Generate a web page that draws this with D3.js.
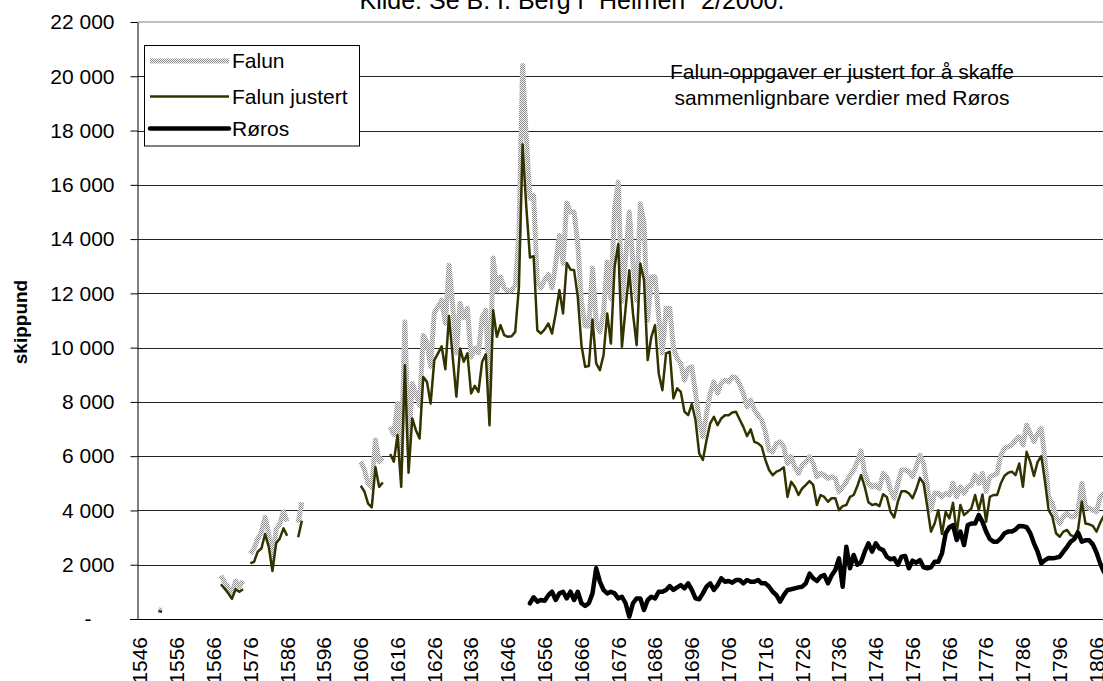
<!DOCTYPE html>
<html>
<head>
<meta charset="utf-8">
<script src="https://cdn.jsdelivr.net/npm/d3@7/dist/d3.min.js"></script>
<style>
  body { margin: 0; background: #fff; }
  svg { display: block; font-family: "Liberation Sans", Arial, sans-serif; }
</style>
</head>
<body>
<svg id="chart" width="1103" height="681"></svg>
<script>
// values (skippund per year), runs = [firstYear, values]
const falunRuns = [
    [1551, [330, 320]],
    [1568, [1600, 1350, 1150, 950, 1400, 1200, 1400]],
    [1576, [2400, 2600, 2950, 3200, 3750, 3150, 2200, 3300, 3500, 3950, 3600]],
    [1589, [3550, 4300]],
    [1606, [5800, 5500, 5000, 4850, 6600, 5800, 5950]],
    [1614, [
        7080, 6800, 7940, 5800, 10950, 6300, 8680, 8310, 7880, 10460,
        10200, 9300, 11300, 11500, 11750, 10900, 13040, 11560, 9800, 11640,
        11100, 11450, 9650, 9980, 9800, 11100, 11380, 8300, 13300, 12100,
        12600, 12190, 12100, 12100, 12300, 14200, 20400, 17700, 15500, 15600,
        12400, 12200, 12500, 12700, 12200, 13100, 14140, 13100, 15330, 15000,
        15000, 13800, 11700, 10800, 10800, 12930, 10950, 10580, 11300, 13160,
        11800, 15100, 16100, 11700, 13300, 15000, 13100, 11750, 15300, 14580,
        11010, 12610, 12610, 11130, 9800, 11450, 11450, 9980, 9610, 9420,
        8800, 9240, 9290, 8320, 7330, 6710, 7590, 8320, 8740, 8320,
        8690, 8800, 8740, 8920, 8900, 8650, 8320, 7820, 8070, 7700,
        7510, 7330, 6900, 6220, 6160, 6470, 6530, 6350, 5730, 5980,
        5610, 5370, 5670, 5790, 5980, 5730, 5240, 5370, 5300, 5180,
        5240, 5180, 4690, 4870, 5060, 5300, 5490, 5800, 6200, 5370,
        5000, 4870, 4940, 4810, 5370, 5240, 4750, 4450, 5000, 5490,
        5490, 5430, 5240, 5610, 6040, 5730, 4870, 4010, 4630, 4630,
        4500, 4630, 4570, 5000, 4500, 4870, 4630, 4870, 4940, 5300,
        5000, 5370, 4700, 5240, 5300, 5370, 6040, 6290, 6350, 6410,
        6590, 6710, 6410, 7140, 6840, 6530, 6840, 7020, 5860, 4500,
        4260, 3770, 3520, 3770, 3890, 3770, 3770, 4000, 5000, 4140,
        4080, 4010, 3950, 4500, 4650
    ]]
];

const falunJustertRuns = [
    [1551, [290, 270]],
    [1568, [1280, 1120, 950, 740, 1100, 1000, 1100]],
    [1576, [2050, 2110, 2480, 2600, 3130, 2660, 1770, 2790, 2970, 3340, 3070]],
    [1589, [3010, 3620]],
    [1606, [4910, 4700, 4250, 4110, 5590, 4870, 5030]],
    [1614, [
        6080, 5800, 6780, 4870, 9350, 5390, 7390, 6960, 6650, 8920,
        8740, 7940, 9540, 9790, 10050, 9200, 11170, 9660, 8190, 9970,
        9480, 9790, 8310, 8590, 8370, 9480, 9750, 7140, 11380, 10400,
        10830, 10460, 10400, 10420, 10580, 12240, 17490, 15200, 13320, 13370,
        10640, 10520, 10670, 10890, 10520, 11260, 12120, 11260, 13120, 12880,
        12850, 11870, 10090, 9290, 9320, 11040, 9420, 9170, 9720, 11260,
        10150, 12970, 13810, 10030, 11450, 12850, 11260, 10090, 13100, 12490,
        9540, 10400, 10830, 9050, 8430, 9790, 9850, 8130, 8500, 8370,
        7640, 7510, 7920, 7330, 6100, 5860, 6590, 7210, 7450, 7140,
        7390, 7510, 7510, 7610, 7640, 7350, 7080, 6740, 6990, 6530,
        6470, 6350, 5860, 5490, 5300, 5430, 5490, 5590, 4500, 5060,
        4870, 4570, 4810, 4940, 5080, 4940, 4200, 4570, 4500, 4320,
        4450, 4450, 4010, 4160, 4200, 4500, 4570, 4900, 5300, 4870,
        4300, 4200, 4240, 4160, 4600, 4500, 3950, 3740, 4320, 4710,
        4710, 4630, 4450, 4780, 5200, 5000, 4140, 3220, 3520, 4010,
        3130, 3950, 3710, 4280, 3160, 4200, 3830, 3950, 4080, 4570,
        4010, 4590, 3580, 4500, 4570, 4570, 5000, 5280, 5390, 5430,
        5300, 5730, 4870, 6160, 5790, 5270, 5790, 6000, 5060, 4010,
        3770, 3160, 3030, 3220, 3280, 3090, 3030, 3300, 4320, 3520,
        3490, 3430, 3220, 3550, 3800
    ]]
];

const rorosRuns = [
    [1652, [
        580, 800, 640, 700, 670, 880, 1005, 700, 945, 1005,
        760, 1005, 700, 1005, 580, 480, 580, 945, 1870, 1375,
        1070, 945, 1005, 945, 760, 820, 580, 85, 580, 760,
        760, 330, 700, 820, 760, 1005, 1005, 1070, 1215, 1070,
        1165, 1250, 1130, 1315, 1070, 760, 725, 945, 1190, 1315,
        1070, 1250, 1500, 1375, 1400, 1340, 1435, 1435, 1315, 1435,
        1375, 1375, 1435, 1315, 1315, 1190, 1005, 880, 640, 880,
        1070, 1095, 1130, 1165, 1190, 1315, 1670, 1500, 1400, 1560,
        1620, 1315, 1600, 1805, 2235, 1190, 2660, 1870, 2360, 2000,
        2100, 2480, 2790, 2480, 2790, 2600, 2540, 2295, 2200, 2235,
        2000, 2295, 2320, 1870, 2150, 2075, 2170, 1905, 1870, 1905,
        2110, 2110, 2420, 3160, 3380, 3460, 2910, 3220, 2725, 3460,
        3520, 3520, 3830, 3580, 3220, 2950, 2850, 2850, 2970, 3160,
        3220, 3220, 3300, 3430, 3420, 3380, 3160, 2790, 2480, 2050,
        2170, 2250, 2235, 2260, 2295, 2480, 2660, 2850, 2950, 3180,
        2850, 2900, 2900, 2750, 2450, 2050, 1740
    ]]
];

const seriesNames = ['Falun', 'Falun justert', 'Røros'];
const yTicks = [0, 2000, 4000, 6000, 8000, 10000, 12000, 14000, 16000, 18000, 20000, 22000];
const xTickYears = [1546, 1556, 1566, 1576, 1586, 1596, 1606, 1616, 1626, 1636, 1646, 1656, 1666,
    1676, 1686, 1696, 1706, 1716, 1726, 1736, 1746, 1756, 1766, 1776, 1786, 1796, 1806];
const title = 'Kilde: Se B. I. Berg i "Heimen" 2/2000.';
const note = ['Falun-oppgaver er justert for å skaffe', 'sammenlignbare verdier med Røros'];

const W = 1103;
const plotLeft = 137.5, plotTop = 22, plotBottom = 619;
const FONT = 21;

const svg = d3.select('#chart');

// runs -> points, a null between runs so the line breaks
function toPoints(runs) {
    const pts = [];
    runs.forEach(([start, vals], i) => {
        if (i > 0) pts.push({ year: start - 1, value: null });
        vals.forEach((v, k) => pts.push({ year: start + k, value: v }));
    });
    return pts;
}

const x = d3.scaleLinear().domain([1546, 1806]).range([140, 1096.5]);
const y = d3.scaleLinear().domain([0, 22000]).range([plotBottom, plotTop]);
const crisp = v => Math.round(v) + 0.5;

const defs = svg.append('defs');
const pat = defs.append('pattern')
    .attr('id', 'dots')
    .attr('patternUnits', 'userSpaceOnUse')
    .attr('width', 2).attr('height', 2);
pat.append('rect').attr('width', 2).attr('height', 2).attr('fill', '#f4f4f4');
pat.append('rect').attr('width', 1).attr('height', 1).attr('fill', '#8c8c8c');
pat.append('rect').attr('x', 1).attr('y', 1).attr('width', 1).attr('height', 1).attr('fill', '#8c8c8c');

// title, cut at top like the original
svg.append('text')
    .attr('x', 572).attr('y', 8.5)
    .attr('text-anchor', 'middle')
    .attr('font-size', 25)
    .text(title);

// gridlines
svg.append('g')
    .selectAll('line')
    .data(yTicks.filter(v => v > 0 && v < 22000))
    .join('line')
    .attr('x1', plotLeft).attr('x2', W)
    .attr('y1', d => crisp(y(d))).attr('y2', d => crisp(y(d)))
    .attr('stroke', '#222').attr('stroke-width', 1);

// plot area top border
svg.append('line')
    .attr('x1', plotLeft).attr('x2', W)
    .attr('y1', plotTop).attr('y2', plotTop)
    .attr('stroke', '#c0c0c0').attr('stroke-width', 2);

// y axis
const yAxis = d3.axisLeft(y)
    .tickValues(yTicks)
    .tickSize(7)
    .tickSizeOuter(0)
    .tickPadding(16)
    .tickFormat(v => v === 0 ? '-' : d3.format(',')(v).replace(/,/g, ' '));

const yg = svg.append('g')
    .attr('transform', `translate(${plotLeft},0)`)
    .call(yAxis);
yg.attr('font-size', FONT).attr('font-family', null);
yg.selectAll('line, path').attr('stroke', '#000');
yg.selectAll('.tick text').attr('fill', '#000');
yg.selectAll('.tick text').filter(d => d === 0)
    .attr('text-anchor', 'start').attr('x', -53);

// x axis line + rotated labels
svg.append('line')
    .attr('x1', 130).attr('x2', W)
    .attr('y1', crisp(plotBottom)).attr('y2', crisp(plotBottom))
    .attr('stroke', '#000');

svg.append('g')
    .selectAll('text')
    .data(xTickYears)
    .join('text')
    .attr('transform', d => `translate(${x(d)},637) rotate(-90)`)
    .attr('text-anchor', 'end')
    .attr('dy', '0.35em')
    .attr('font-size', FONT)
    .text(d => d);

// y title
svg.append('text')
    .attr('transform', 'translate(20,322) rotate(-90)')
    .attr('text-anchor', 'middle')
    .attr('dy', '0.35em')
    .attr('font-size', 19)
    .attr('font-weight', 'bold')
    .text('skippund');

// series
const line = d3.line()
    .defined(d => d.value !== null)
    .x(d => x(d.year))
    .y(d => y(d.value));

const plot = svg.append('g');

plot.append('path')
    .datum(toPoints(falunRuns))
    .attr('fill', 'none')
    .attr('stroke', 'url(#dots)')
    .attr('stroke-width', 5)
    .attr('stroke-linejoin', 'round')
    .attr('d', line);

plot.append('path')
    .datum(toPoints(falunJustertRuns))
    .attr('fill', 'none')
    .attr('stroke', '#333300')
    .attr('stroke-width', 2.5)
    .attr('stroke-linejoin', 'round')
    .attr('d', line);

plot.append('path')
    .datum(toPoints(rorosRuns))
    .attr('fill', 'none')
    .attr('stroke', '#000')
    .attr('stroke-width', 4.5)
    .attr('stroke-linejoin', 'round')
    .attr('stroke-linecap', 'round')
    .attr('d', line);

// note
svg.append('g')
    .selectAll('text')
    .data(note)
    .join('text')
    .attr('x', 842)
    .attr('y', (d, i) => 79 + i * 26)
    .attr('text-anchor', 'middle')
    .attr('font-size', FONT)
    .text(d => d);

// legend
const lg = svg.append('g');
lg.append('rect')
    .attr('x', 144.5).attr('y', 45.5)
    .attr('width', 215).attr('height', 100.5)
    .attr('fill', '#fff').attr('stroke', '#000');

const legendStyles = [
    { stroke: 'url(#dots)', width: 5, cap: 'butt' },
    { stroke: '#333300', width: 2.5, cap: 'butt' },
    { stroke: '#000', width: 4.5, cap: 'round' }
];
const legendY = [61, 96.5, 128.5];

seriesNames.forEach((name, i) => {
    const s = legendStyles[i];
    lg.append('line')
        .attr('x1', 150).attr('x2', 229)
        .attr('y1', legendY[i]).attr('y2', legendY[i])
        .attr('stroke', s.stroke)
        .attr('stroke-width', s.width)
        .attr('stroke-linecap', s.cap);
    lg.append('text')
        .attr('x', 232).attr('y', legendY[i])
        .attr('dy', '0.35em')
        .attr('font-size', FONT)
        .text(name);
});
</script>
</body>
</html>
